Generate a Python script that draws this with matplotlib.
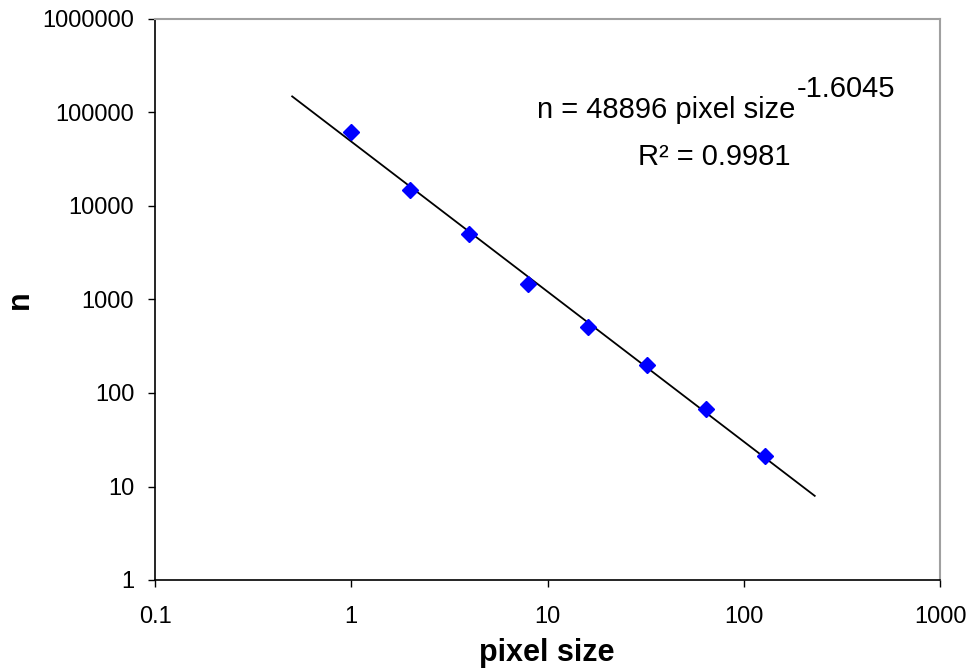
import numpy as np
import matplotlib
matplotlib.use("Agg")
import matplotlib.pyplot as plt
from matplotlib.ticker import FixedLocator, FixedFormatter, NullLocator

plt.rcParams['font.family'] = ['Liberation Sans', 'DejaVu Sans']

# measured points
pixel_size = [1, 2, 4, 8, 16, 32, 64, 128]
n_count = [62000, 15000, 5000, 1480, 510, 200, 68, 21]

# power-law trendline shown on the chart
fit_a = 48896
fit_b = -1.6045
fit_r2 = 0.9981
fit_range = [0.5, 230]

x_ticks = [0.1, 1, 10, 100, 1000]
x_ticklabels = ["0.1", "1", "10", "100", "1000"]
y_ticks = [1, 10, 100, 1000, 10000, 100000, 1000000]
y_ticklabels = ["1", "10", "100", "1000", "10000", "100000", "1000000"]

fig = plt.figure(figsize=(9.71, 6.70), dpi=100)
ax = fig.add_axes([155 / 971, 1 - 580 / 670, 785 / 971, 561 / 670])

fit_x = np.array(fit_range)
fit_y = fit_a * fit_x ** fit_b
ax.plot(fit_x, fit_y, color="black", lw=1.3, zorder=2)
ax.plot(pixel_size, n_count, linestyle="none", marker="D", ms=8,
        color="#0000ff", mec="#0000ff", zorder=3)

ax.set_xscale("log")
ax.set_yscale("log")
ax.set_xlim(0.1, 1000)
ax.set_ylim(1, 1000000)
ax.xaxis.set_major_locator(FixedLocator(x_ticks))
ax.xaxis.set_major_formatter(FixedFormatter(x_ticklabels))
ax.yaxis.set_major_locator(FixedLocator(y_ticks))
ax.yaxis.set_major_formatter(FixedFormatter(y_ticklabels))
ax.xaxis.set_minor_locator(NullLocator())
ax.yaxis.set_minor_locator(NullLocator())
ax.tick_params(axis="both", direction="out", length=5, width=1, labelsize=17, colors="black")
ax.tick_params(axis="x", pad=14)
ax.tick_params(axis="y", pad=10)

for side in ["top", "right"]:
    ax.spines[side].set_color("#a0a0a0")
    ax.spines[side].set_linewidth(1.5)
for side in ["left", "bottom"]:
    ax.spines[side].set_color("black")
    ax.spines[side].set_linewidth(1.2)

fig.text(547 / 971, 1 - 653 / 670, "pixel size", ha="center", va="center",
         fontsize=22, fontweight="bold")
fig.text(20 / 971, 1 - 300 / 670, "n", ha="center", va="center",
         fontsize=22, fontweight="bold", rotation=90)

fig.text(537 / 971, 1 - 118 / 670, "n = %d pixel size" % fit_a, ha="left",
         va="baseline", fontsize=21)
fig.text(797 / 971, 1 - 97 / 670, "%.4f" % fit_b, ha="left", va="baseline", fontsize=21)
fig.text(790 / 971, 1 - 165 / 670, "R\u00b2 = %.4f" % fit_r2, ha="right",
         va="baseline", fontsize=21)

fig.savefig("out.png", dpi=100)
